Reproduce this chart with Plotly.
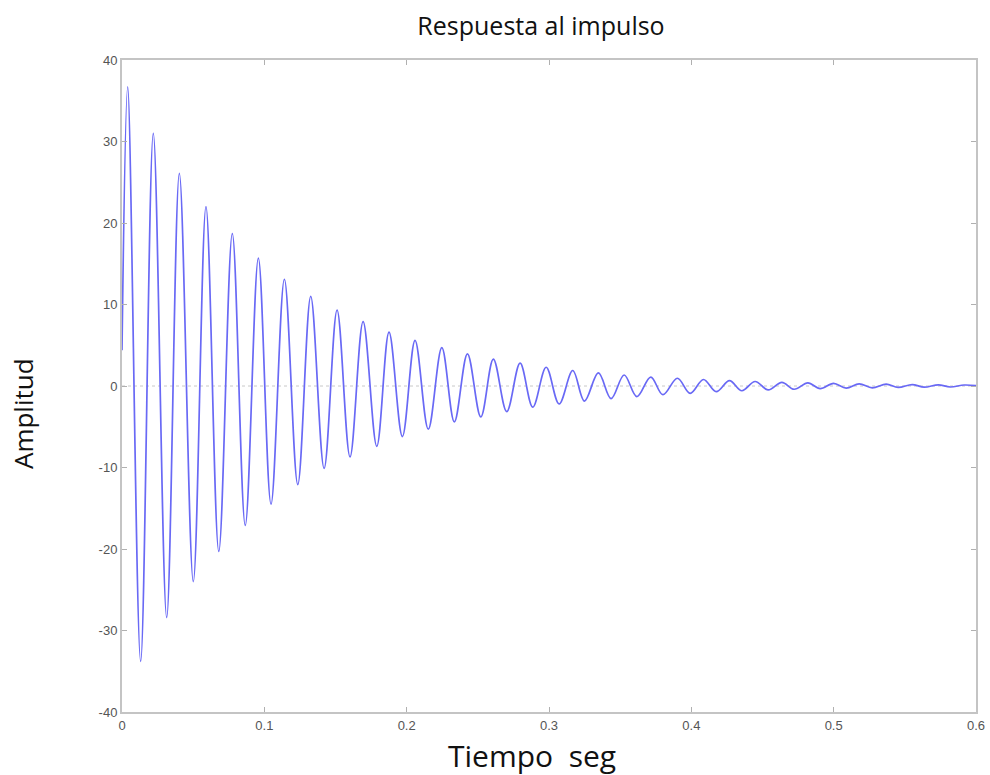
import plotly.graph_objects as go

# Extrema of the impulse response
peak_t = [0.0040, 0.0220, 0.0403, 0.0590, 0.0775, 0.0958, 0.1141, 0.1326, 0.1511, 0.1694,
          0.1876, 0.2059, 0.2247, 0.2427, 0.2609, 0.2797, 0.2980, 0.3167, 0.3347, 0.3528,
          0.3715, 0.3902, 0.4085, 0.4268, 0.4448, 0.4636, 0.4819, 0.4999, 0.5179, 0.5369,
          0.5552, 0.5735, 0.5917]
peak_v = [36.7, 31.0, 26.1, 22.0, 18.7, 15.7, 13.1, 11.0, 9.3, 7.9,
          6.6, 5.6, 4.7, 3.95, 3.3, 2.8, 2.3, 1.9, 1.6, 1.35,
          1.1, 0.95, 0.8, 0.65, 0.55, 0.45, 0.38, 0.32, 0.27, 0.22,
          0.18, 0.15, 0.12]
trough_t = [0.0131, 0.0314, 0.0501, 0.0680, 0.0866, 0.1047, 0.1235, 0.1420, 0.1602, 0.1790,
            0.1970, 0.2152, 0.2335, 0.2521, 0.2703, 0.2886, 0.3071, 0.3249, 0.3436, 0.3617,
            0.3800, 0.3992, 0.4175, 0.4355, 0.4540, 0.4722, 0.4905, 0.5088, 0.5271, 0.5453,
            0.5636, 0.5819]
trough_v = [-33.8, -28.4, -24.0, -20.3, -17.1, -14.5, -12.1, -10.1, -8.7, -7.4,
            -6.2, -5.3, -4.4, -3.8, -3.15, -2.6, -2.2, -1.85, -1.55, -1.3,
            -1.07, -0.9, -0.7, -0.58, -0.48, -0.4, -0.33, -0.27, -0.22, -0.18,
            -0.15, -0.12]
start_t, start_v = 0.0, 4.4
end_t, end_v = 0.6, 0.05

x_ticks = [0, 0.1, 0.2, 0.3, 0.4, 0.5, 0.6]
x_tick_labels = ["0", "0.1", "0.2", "0.3", "0.4", "0.5", "0.6"]
y_ticks = [-40, -30, -20, -10, 0, 10, 20, 30, 40]
y_tick_labels = ["-40", "-30", "-20", "-10", "0", "10", "20", "30", "40"]

# merge extrema in time order
t = [start_t]
v = [start_v]
for i in range(len(peak_t)):
    t.append(peak_t[i]); v.append(peak_v[i])
    if i < len(trough_t):
        t.append(trough_t[i]); v.append(trough_v[i])
t.append(end_t); v.append(end_v)

fig = go.Figure()
fig.add_trace(go.Scatter(x=t, y=v, mode="lines",
                         line=dict(color="rgb(105,105,245)", width=1.7, shape="spline", smoothing=1.0),
                         showlegend=False))
fig.add_hline(y=0, line=dict(color="#c8c8c8", width=1, dash="dot"), layer="below")

axis_common = dict(showgrid=False, zeroline=False, showline=True, linecolor="#c4c4c4",
                   linewidth=2, mirror="ticks", ticks="inside", ticklen=5, tickcolor="#b0b0b0",
                   automargin=False,
                   tickfont=dict(family="Liberation Sans, Arial", size=13, color="#555555"))

W, H = 990, 775
fig.update_layout(
    width=W, height=H,
    paper_bgcolor="white", plot_bgcolor="white",
    margin=dict(l=122, r=14, t=60, b=63),
    title=dict(text="Respuesta al impulso", x=541 / W, xanchor="center", y=1 - 26 / H, yanchor="middle",
               font=dict(family="Open Sans", size=25, color="#111111")),
    xaxis=dict(range=[0, 0.6], tickvals=x_ticks, ticktext=x_tick_labels, **axis_common),
    yaxis=dict(range=[-40, 40], tickvals=y_ticks, ticktext=y_tick_labels, **axis_common),
)
fig.add_annotation(text="Tiempo  seg", xref="paper", yref="paper", x=0.480, y=-0.0660,
                   xanchor="center", yanchor="middle", showarrow=False,
                   font=dict(family="Open Sans", size=30, color="#111111"))
fig.add_annotation(text="Amplitud", xref="paper", yref="paper", x=-0.1159, y=0.457,
                   xanchor="center", yanchor="middle", textangle=-90, showarrow=False,
                   font=dict(family="Open Sans", size=26, color="#111111"))

fig.write_html("out.html", config={"displayModeBar": False},
               post_script="document.body.style.margin='0';")
